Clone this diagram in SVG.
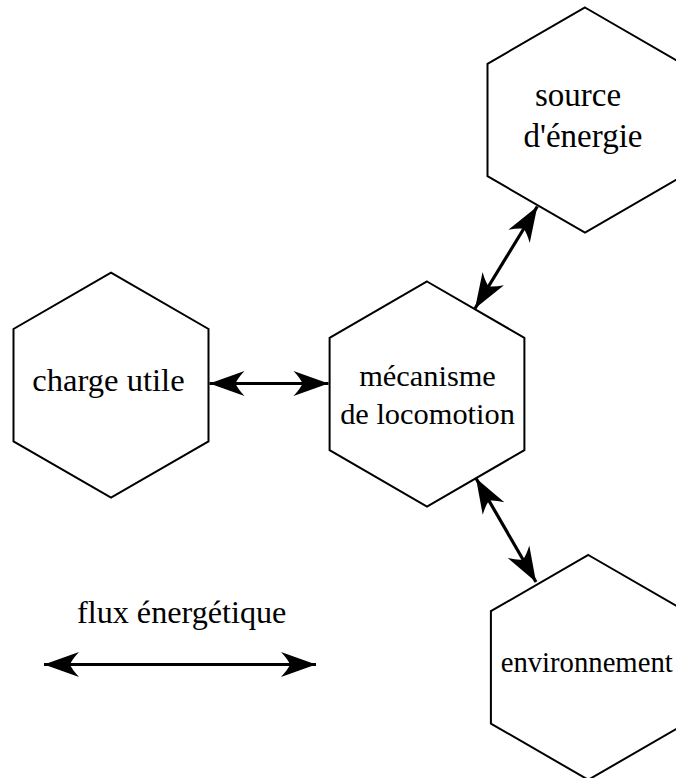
<svg xmlns="http://www.w3.org/2000/svg" width="676" height="778" viewBox="0 0 676 778">
  <style>
    .hex { fill: #ffffff; stroke: #000000; stroke-width: 2; stroke-linejoin: miter; }
    .lbl { font-family: "Liberation Serif", "Times New Roman", Times, serif; fill: #000000; text-anchor: middle; }
    .flow { fill: none; stroke: #000000; stroke-width: 3.2; marker-start: url(#head); marker-end: url(#head); }
  </style>
  <defs>
    <!-- swept arrowhead, tip at the line end -->
    <marker id="head" markerUnits="userSpaceOnUse" viewBox="-37 -15 39 30" refX="0" refY="0" markerWidth="39" markerHeight="30" orient="auto-start-reverse">
      <path d="M0,0 L-35,-12.5 Q-28,-5 -26,0 Q-28,5 -35,12.5 Z" fill="#000000"/>
    </marker>
  </defs>

  <g id="source-energie">
    <polygon class="hex" points="585,7.5 682.5,63.8 682.5,176.2 585,232.5 487.5,176.2 487.5,63.8"/>
    <text class="lbl" font-size="33" x="578" y="106">source</text>
    <text class="lbl" font-size="33" x="583" y="147">d'énergie</text>
  </g>

  <g id="charge-utile">
    <polygon class="hex" points="111,272.7 208.5,329 208.5,441.4 111,497.7 13.5,441.4 13.5,329"/>
    <text class="lbl" font-size="32.6" x="108.5" y="391">charge utile</text>
  </g>

  <g id="mecanisme">
    <polygon class="hex" points="427,281.5 524.4,337.8 524.4,450.2 427,506.5 329.6,450.2 329.6,337.8"/>
    <text class="lbl" font-size="30.4" x="427.5" y="386">mécanisme</text>
    <text class="lbl" font-size="30.4" x="427.5" y="423.5">de locomotion</text>
  </g>

  <g id="environnement">
    <polygon class="hex" points="588.3,555 685.7,611.2 685.7,723.6 588.3,779.8 490.9,723.6 490.9,611.2"/>
    <text class="lbl" font-size="28.7" x="586.7" y="672">environnement</text>
  </g>

  <g id="connectors">
    <line class="flow" x1="209.5" y1="383.5" x2="328.5" y2="383.5"/>
    <line class="flow" x1="475" y1="308.5" x2="537.3" y2="206.5"/>
    <line class="flow" x1="476" y1="478.3" x2="536" y2="582"/>
  </g>

  <g id="legend">
    <text class="lbl" font-size="32.2" x="181.7" y="623">flux énergétique</text>
    <line class="flow" x1="44" y1="664.5" x2="316" y2="664.5"/>
  </g>
</svg>
